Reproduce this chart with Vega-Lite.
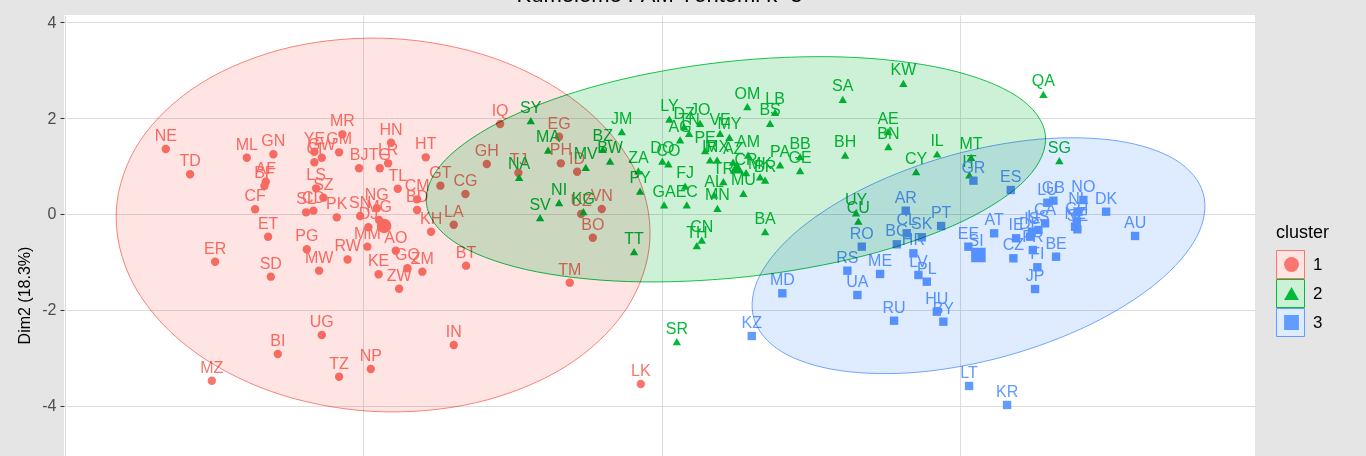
{
  "$schema": "https://vega.github.io/schema/vega-lite/v6.json",
  "width": 1191,
  "height": 441,
  "autosize": {"type": "none"},
  "padding": {"left": 64, "top": 15, "right": 111, "bottom": 0},
  "background": "#E5E5E5",
  "title": {"text": "Kümeleme PAM Yöntemi k=3", "fontSize": 22, "font": "Liberation Sans", "fontWeight": "normal", "color": "black", "anchor": "middle", "offset": 2, "dy": 12, "baseline": "alphabetic"},
  "config": {
    "view": {"stroke": null, "fill": "white"},
    "font": "Liberation Sans",
    "legend": {"titleFont": "Liberation Sans", "titleFontSize": 18, "titleFontWeight": "normal", "titleColor": "black", "labelFont": "Liberation Sans", "labelFontSize": 17, "labelColor": "black", "padding": 0, "rowPadding": 0, "titlePadding": 8}
  },
  "datasets": {
    "pts": [
      {"id":"NE","cluster":"1","x":-3.305,"y":1.354},
      {"id":"TD","cluster":"1","x":-2.898,"y":0.827},
      {"id":"ML","cluster":"1","x":-1.948,"y":1.173},
      {"id":"GN","cluster":"1","x":-1.503,"y":1.244},
      {"id":"AF","cluster":"1","x":-1.630,"y":0.673},
      {"id":"BF","cluster":"1","x":-1.653,"y":0.583},
      {"id":"CF","cluster":"1","x":-1.809,"y":0.098},
      {"id":"ET","cluster":"1","x":-1.591,"y":-0.473},
      {"id":"ER","cluster":"1","x":-2.479,"y":-0.994},
      {"id":"SD","cluster":"1","x":-1.546,"y":-1.306},
      {"id":"PG","cluster":"1","x":-0.943,"y":-0.735},
      {"id":"MW","cluster":"1","x":-0.737,"y":-1.181},
      {"id":"UG","cluster":"1","x":-0.692,"y":-2.521},
      {"id":"BI","cluster":"1","x":-1.429,"y":-2.917},
      {"id":"MZ","cluster":"1","x":-2.534,"y":-3.473},
      {"id":"TZ","cluster":"1","x":-0.402,"y":-3.390},
      {"id":"NP","cluster":"1","x":0.129,"y":-3.229},
      {"id":"IN","cluster":"1","x":1.519,"y":-2.729},
      {"id":"LK","cluster":"1","x":4.652,"y":-3.542},
      {"id":"TM","cluster":"1","x":3.462,"y":-1.431},
      {"id":"BO","cluster":"1","x":3.848,"y":-0.494},
      {"id":"IQ","cluster":"1","x":2.295,"y":1.875},
      {"id":"GH","cluster":"1","x":2.072,"y":1.042},
      {"id":"EG","cluster":"1","x":3.283,"y":1.610},
      {"id":"PH","cluster":"1","x":3.312,"y":1.056},
      {"id":"ID","cluster":"1","x":3.585,"y":0.881},
      {"id":"TJ","cluster":"1","x":2.601,"y":0.860},
      {"id":"UZ","cluster":"1","x":3.652,"y":0.0},
      {"id":"VN","cluster":"1","x":3.998,"y":0.104},
      {"id":"GT","cluster":"1","x":1.295,"y":0.590},
      {"id":"CG","cluster":"1","x":1.714,"y":0.417},
      {"id":"LA","cluster":"1","x":1.519,"y":-0.223},
      {"id":"BT","cluster":"1","x":1.725,"y":-1.077},
      {"id":"KH","cluster":"1","x":1.139,"y":-0.369},
      {"id":"CM","cluster":"1","x":0.905,"y":0.306},
      {"id":"BD","cluster":"1","x":0.905,"y":0.083},
      {"id":"HT","cluster":"1","x":1.050,"y":1.181},
      {"id":"TL","cluster":"1","x":0.581,"y":0.527},
      {"id":"HN","cluster":"1","x":0.469,"y":1.485},
      {"id":"LR","cluster":"1","x":0.419,"y":1.056},
      {"id":"TG","cluster":"1","x":0.280,"y":0.952},
      {"id":"BJ","cluster":"1","x":-0.067,"y":0.952},
      {"id":"MR","cluster":"1","x":-0.347,"y":1.660},
      {"id":"GM","cluster":"1","x":-0.402,"y":1.285},
      {"id":"YE","cluster":"1","x":-0.816,"y":1.298},
      {"id":"GW","cluster":"1","x":-0.692,"y":1.173},
      {"id":"CI","cluster":"1","x":-0.816,"y":1.077},
      {"id":"LS","cluster":"1","x":-0.787,"y":0.535},
      {"id":"SZ","cluster":"1","x":-0.665,"y":0.340},
      {"id":"SL","cluster":"1","x":-0.955,"y":0.035},
      {"id":"CD","cluster":"1","x":-0.832,"y":0.069},
      {"id":"PK","cluster":"1","x":-0.441,"y":-0.069},
      {"id":"SN","cluster":"1","x":-0.050,"y":-0.042},
      {"id":"NG","cluster":"1","x":0.229,"y":0.119},
      {"id":"MG","cluster":"1","x":0.268,"y":-0.125},
      {"id":"DJ","cluster":"1","x":0.089,"y":-0.277},
      {"id":"MM","cluster":"1","x":0.072,"y":-0.681},
      {"id":"AO","cluster":"1","x":0.548,"y":-0.765},
      {"id":"RW","cluster":"1","x":-0.260,"y":-0.948},
      {"id":"KE","cluster":"1","x":0.260,"y":-1.256},
      {"id":"GQ","cluster":"1","x":0.742,"y":-1.131},
      {"id":"ZM","cluster":"1","x":0.992,"y":-1.202},
      {"id":"ZW","cluster":"1","x":0.603,"y":-1.558},
      {"id":"SY","cluster":"2","x":2.809,"y":1.944},
      {"id":"MA","cluster":"2","x":3.099,"y":1.333},
      {"id":"BZ","cluster":"2","x":4.015,"y":1.348},
      {"id":"BW","cluster":"2","x":4.137,"y":1.104},
      {"id":"JM","cluster":"2","x":4.333,"y":1.715},
      {"id":"MV","cluster":"2","x":3.730,"y":0.973},
      {"id":"ZA","cluster":"2","x":4.611,"y":0.896},
      {"id":"PY","cluster":"2","x":4.640,"y":0.479},
      {"id":"NA","cluster":"2","x":2.613,"y":0.765},
      {"id":"NI","cluster":"2","x":3.283,"y":0.235},
      {"id":"SV","cluster":"2","x":2.965,"y":-0.077},
      {"id":"KG","cluster":"2","x":3.690,"y":0.048},
      {"id":"TT","cluster":"2","x":4.539,"y":-0.785},
      {"id":"SR","cluster":"2","x":5.255,"y":-2.660},
      {"id":"DO","cluster":"2","x":5.013,"y":1.104},
      {"id":"CO","cluster":"2","x":5.114,"y":1.042},
      {"id":"LY","cluster":"2","x":5.131,"y":1.979},
      {"id":"DZ","cluster":"2","x":5.377,"y":1.819},
      {"id":"JO","cluster":"2","x":5.645,"y":1.890},
      {"id":"TN","cluster":"2","x":5.461,"y":1.681},
      {"id":"AG","cluster":"2","x":5.310,"y":1.542},
      {"id":"PE","cluster":"2","x":5.729,"y":1.319},
      {"id":"VE","cluster":"2","x":5.980,"y":1.681},
      {"id":"MY","cluster":"2","x":6.136,"y":1.598},
      {"id":"IR","cluster":"2","x":5.812,"y":1.125},
      {"id":"MX","cluster":"2","x":5.930,"y":1.125},
      {"id":"AZ","cluster":"2","x":6.198,"y":1.083},
      {"id":"AM","cluster":"2","x":6.449,"y":1.229},
      {"id":"CR","cluster":"2","x":6.415,"y":0.860},
      {"id":"TR","cluster":"2","x":6.035,"y":0.673},
      {"id":"BR","cluster":"2","x":6.734,"y":0.708},
      {"id":"MK","cluster":"2","x":6.650,"y":0.771},
      {"id":"PA","cluster":"2","x":6.985,"y":1.021},
      {"id":"BB","cluster":"2","x":7.320,"y":1.194},
      {"id":"GE","cluster":"2","x":7.320,"y":0.902},
      {"id":"OM","cluster":"2","x":6.437,"y":2.235},
      {"id":"LB","cluster":"2","x":6.901,"y":2.119},
      {"id":"BS","cluster":"2","x":6.817,"y":1.890},
      {"id":"BA","cluster":"2","x":6.734,"y":-0.369},
      {"id":"CN","cluster":"2","x":5.673,"y":-0.542},
      {"id":"TH","cluster":"2","x":5.590,"y":-0.660},
      {"id":"GA","cluster":"2","x":5.042,"y":0.188},
      {"id":"EC","cluster":"2","x":5.422,"y":0.188},
      {"id":"FJ","cluster":"2","x":5.394,"y":0.583},
      {"id":"MN","cluster":"2","x":5.935,"y":0.119},
      {"id":"AL","cluster":"2","x":5.879,"y":0.396},
      {"id":"MU","cluster":"2","x":6.370,"y":0.431},
      {"id":"SA","cluster":"2","x":8.035,"y":2.390},
      {"id":"KW","cluster":"2","x":9.050,"y":2.723},
      {"id":"AE","cluster":"2","x":8.794,"y":1.715},
      {"id":"BN","cluster":"2","x":8.799,"y":1.402},
      {"id":"BH","cluster":"2","x":8.074,"y":1.229},
      {"id":"CY","cluster":"2","x":9.263,"y":0.881},
      {"id":"IL","cluster":"2","x":9.615,"y":1.250},
      {"id":"QA","cluster":"2","x":11.395,"y":2.494},
      {"id":"MT","cluster":"2","x":10.184,"y":1.181},
      {"id":"IT","cluster":"2","x":10.156,"y":0.813},
      {"id":"SG","cluster":"2","x":11.663,"y":1.110},
      {"id":"UY","cluster":"2","x":8.258,"y":0.021},
      {"id":"CU","cluster":"2","x":8.296,"y":-0.150},
      {"id":"AR","cluster":"3","x":9.090,"y":0.069},
      {"id":"CL","cluster":"3","x":9.107,"y":-0.402},
      {"id":"SK","cluster":"3","x":9.358,"y":-0.485},
      {"id":"BG","cluster":"3","x":8.940,"y":-0.631},
      {"id":"HR","cluster":"3","x":9.218,"y":-0.819},
      {"id":"LV","cluster":"3","x":9.302,"y":-1.271},
      {"id":"PL","cluster":"3","x":9.442,"y":-1.410},
      {"id":"PT","cluster":"3","x":9.682,"y":-0.250},
      {"id":"RO","cluster":"3","x":8.353,"y":-0.681},
      {"id":"RS","cluster":"3","x":8.112,"y":-1.181},
      {"id":"ME","cluster":"3","x":8.660,"y":-1.250},
      {"id":"UA","cluster":"3","x":8.280,"y":-1.688},
      {"id":"MD","cluster":"3","x":7.023,"y":-1.652},
      {"id":"KZ","cluster":"3","x":6.511,"y":-2.542},
      {"id":"RU","cluster":"3","x":8.894,"y":-2.223},
      {"id":"HU","cluster":"3","x":9.610,"y":-2.035},
      {"id":"BY","cluster":"3","x":9.720,"y":-2.244},
      {"id":"LT","cluster":"3","x":10.151,"y":-3.583},
      {"id":"KR","cluster":"3","x":10.787,"y":-3.979},
      {"id":"AT","cluster":"3","x":10.570,"y":-0.402},
      {"id":"EE","cluster":"3","x":10.139,"y":-0.681},
      {"id":"SI","cluster":"3","x":10.268,"y":-0.833},
      {"id":"GR","cluster":"3","x":10.223,"y":0.694},
      {"id":"ES","cluster":"3","x":10.849,"y":0.500},
      {"id":"LU","cluster":"3","x":11.462,"y":0.235},
      {"id":"GB","cluster":"3","x":11.563,"y":0.277},
      {"id":"NO","cluster":"3","x":12.065,"y":0.292},
      {"id":"NL","cluster":"3","x":11.982,"y":0.048},
      {"id":"DK","cluster":"3","x":12.446,"y":0.048},
      {"id":"AU","cluster":"3","x":12.931,"y":-0.458},
      {"id":"IS","cluster":"3","x":11.201,"y":-0.369},
      {"id":"CA","cluster":"3","x":11.424,"y":-0.194},
      {"id":"NZ","cluster":"3","x":11.926,"y":-0.265},
      {"id":"CH","cluster":"3","x":11.955,"y":-0.160},
      {"id":"IE","cluster":"3","x":10.938,"y":-0.506},
      {"id":"US","cluster":"3","x":11.312,"y":-0.333},
      {"id":"DE","cluster":"3","x":11.173,"y":-0.473},
      {"id":"FR","cluster":"3","x":11.218,"y":-0.750},
      {"id":"FI","cluster":"3","x":11.295,"y":-1.110},
      {"id":"CZ","cluster":"3","x":10.893,"y":-0.923},
      {"id":"BE","cluster":"3","x":11.608,"y":-0.890},
      {"id":"JP","cluster":"3","x":11.256,"y":-1.563},
      {"id":"SE","cluster":"3","x":11.965,"y":-0.319}
    ],
    "cent": [
      {"cluster":"1","x":0.352,"y":-0.25},
      {"cluster":"2","x":6.260,"y":0.973},
      {"cluster":"3","x":10.307,"y":-0.854}
    ],
    "ell": [
      {"cluster":"1","i":0,"x":4.804,"y":-0.533},
      {"cluster":"1","i":1,"x":4.399,"y":-1.996},
      {"cluster":"1","i":2,"x":3.374,"y":-3.192},
      {"cluster":"1","i":3,"x":1.886,"y":-3.933},
      {"cluster":"1","i":4,"x":0.164,"y":-4.113},
      {"cluster":"1","i":5,"x":-1.534,"y":-3.700},
      {"cluster":"1","i":6,"x":-2.945,"y":-2.758},
      {"cluster":"1","i":7,"x":-3.859,"y":-1.433},
      {"cluster":"1","i":8,"x":-4.134,"y":0.075},
      {"cluster":"1","i":9,"x":-3.729,"y":1.538},
      {"cluster":"1","i":10,"x":-2.704,"y":2.733},
      {"cluster":"1","i":11,"x":-1.216,"y":3.475},
      {"cluster":"1","i":12,"x":0.506,"y":3.654},
      {"cluster":"1","i":13,"x":2.204,"y":3.242},
      {"cluster":"1","i":14,"x":3.615,"y":2.300},
      {"cluster":"1","i":15,"x":4.529,"y":0.975},
      {"cluster":"2","i":0,"x":11.429,"y":1.644},
      {"cluster":"2","i":1,"x":11.111,"y":0.733},
      {"cluster":"2","i":2,"x":10.052,"y":-0.146},
      {"cluster":"2","i":3,"x":8.414,"y":-0.863},
      {"cluster":"2","i":4,"x":6.442,"y":-1.304},
      {"cluster":"2","i":5,"x":4.444,"y":-1.408},
      {"cluster":"2","i":6,"x":2.719,"y":-1.154},
      {"cluster":"2","i":7,"x":1.529,"y":-0.583},
      {"cluster":"2","i":8,"x":1.060,"y":0.219},
      {"cluster":"2","i":9,"x":1.379,"y":1.129},
      {"cluster":"2","i":10,"x":2.437,"y":2.008},
      {"cluster":"2","i":11,"x":4.075,"y":2.725},
      {"cluster":"2","i":12,"x":6.045,"y":3.167},
      {"cluster":"2","i":13,"x":8.045,"y":3.271},
      {"cluster":"2","i":14,"x":9.771,"y":3.017},
      {"cluster":"2","i":15,"x":10.960,"y":2.446},
      {"cluster":"3","i":0,"x":14.074,"y":0.425},
      {"cluster":"3","i":1,"x":13.965,"y":-0.473},
      {"cluster":"3","i":2,"x":13.298,"y":-1.431},
      {"cluster":"3","i":3,"x":12.178,"y":-2.304},
      {"cluster":"3","i":4,"x":10.772,"y":-2.958},
      {"cluster":"3","i":5,"x":9.296,"y":-3.296},
      {"cluster":"3","i":6,"x":7.975,"y":-3.260},
      {"cluster":"3","i":7,"x":7.007,"y":-2.865},
      {"cluster":"3","i":8,"x":6.543,"y":-2.163},
      {"cluster":"3","i":9,"x":6.652,"y":-1.265},
      {"cluster":"3","i":10,"x":7.318,"y":-0.306},
      {"cluster":"3","i":11,"x":8.439,"y":0.567},
      {"cluster":"3","i":12,"x":9.844,"y":1.221},
      {"cluster":"3","i":13,"x":11.320,"y":1.558},
      {"cluster":"3","i":14,"x":12.642,"y":1.523},
      {"cluster":"3","i":15,"x":13.610,"y":1.127}
    ]
  },
  "encoding": {
    "x": {"field": "x", "type": "quantitative", "scale": {"domain": [-5.01, 14.94], "nice": false, "zero": false},
      "axis": {"values": [-5, 0, 5, 10], "grid": true, "gridColor": "#DEDEDE", "gridWidth": 1, "labels": false, "ticks": false, "domain": false, "title": null}},
    "y": {"field": "y", "type": "quantitative", "scale": {"domain": [-5.042, 4.146], "nice": false, "zero": false},
      "axis": {"title": "Dim2 (18.3%)", "values": [-4, -2, 0, 2, 4], "labelExpr": "'' + datum.value", "grid": true, "gridColor": "#DEDEDE", "gridWidth": 1, "domain": false, "tickColor": "#333333", "tickSize": 4, "labelFontSize": 16, "labelColor": "#4D4D4D", "labelFont": "Liberation Sans", "labelPadding": 4, "titleFont": "Liberation Sans", "titleFontSize": 16, "titleFontWeight": "normal", "titleColor": "black", "titleX": -40, "titleY": 280, "titleAngle": -90, "titleBaseline": "middle", "titleAlign": "center"}}
  },
  "layer": [
    {
      "data": {"name": "pts"},
      "mark": {"type": "point", "filled": true, "size": 70, "opacity": 1, "strokeWidth": 0},
      "encoding": {
        "color": {"field": "cluster", "type": "nominal", "scale": {"domain": ["1", "2", "3"], "range": ["#F8766D", "#00BA38", "#619CFF"]},
          "legend": {"title": "cluster", "orient": "none", "legendX": 1212, "legendY": 209, "symbolSize": 220, "clipHeight": 29, "symbolOffset": 7, "labelOffset": 21, "zindex": 2, "symbolStrokeWidth": 0, "labelOpacity": 0, "titleOpacity": 0}},
        "shape": {"field": "cluster", "type": "nominal", "scale": {"domain": ["1", "2", "3"], "range": ["circle", "triangle-up", "square"]},
          "legend": {"title": "cluster", "orient": "none", "legendX": 1212, "legendY": 209, "symbolSize": 220, "clipHeight": 29, "symbolOffset": 7, "labelOffset": 21, "zindex": 2, "symbolStrokeWidth": 0, "labelOpacity": 0, "titleOpacity": 0}}
      }
    },
    {
      "data": {"name": "cent"},
      "mark": {"type": "point", "filled": true, "size": 210, "opacity": 1, "strokeWidth": 0},
      "encoding": {
        "color": {"field": "cluster", "type": "nominal"},
        "shape": {"field": "cluster", "type": "nominal"}
      }
    },
    {
      "data": {"name": "pts"},
      "mark": {"type": "text", "fontSize": 16, "font": "Liberation Sans", "dy": -8, "baseline": "alphabetic", "align": "center"},
      "encoding": {
        "text": {"field": "id", "type": "nominal"},
        "color": {"field": "cluster", "type": "nominal"}
      }
    },
    {
      "data": {"name": "ell"},
      "mark": {"type": "line", "interpolate": "cardinal-closed", "fillOpacity": 1, "strokeWidth": 0.9, "blend": "multiply"},
      "encoding": {
        "order": {"field": "i", "type": "quantitative"},
        "fill": {"field": "cluster", "type": "nominal", "scale": {"range": ["#FEE4E2", "#CCF1D7", "#DFEBFF"]},
          "legend": {"title": "cluster", "orient": "none", "legendX": 1212, "legendY": 209, "symbolType": "square", "symbolSize": 784, "clipHeight": 29, "labelOffset": 8, "zindex": 1, "symbolStrokeWidth": 1, "symbolOpacity": 1}},
        "stroke": {"field": "cluster", "type": "nominal", "scale": {"range": ["#F8766D", "#00BA38", "#619CFF"]},
          "legend": {"title": "cluster", "orient": "none", "legendX": 1212, "legendY": 209, "symbolType": "square", "symbolSize": 784, "clipHeight": 29, "labelOffset": 8, "zindex": 1, "symbolStrokeWidth": 1, "symbolOpacity": 1}}
      }
    }
  ]
}
